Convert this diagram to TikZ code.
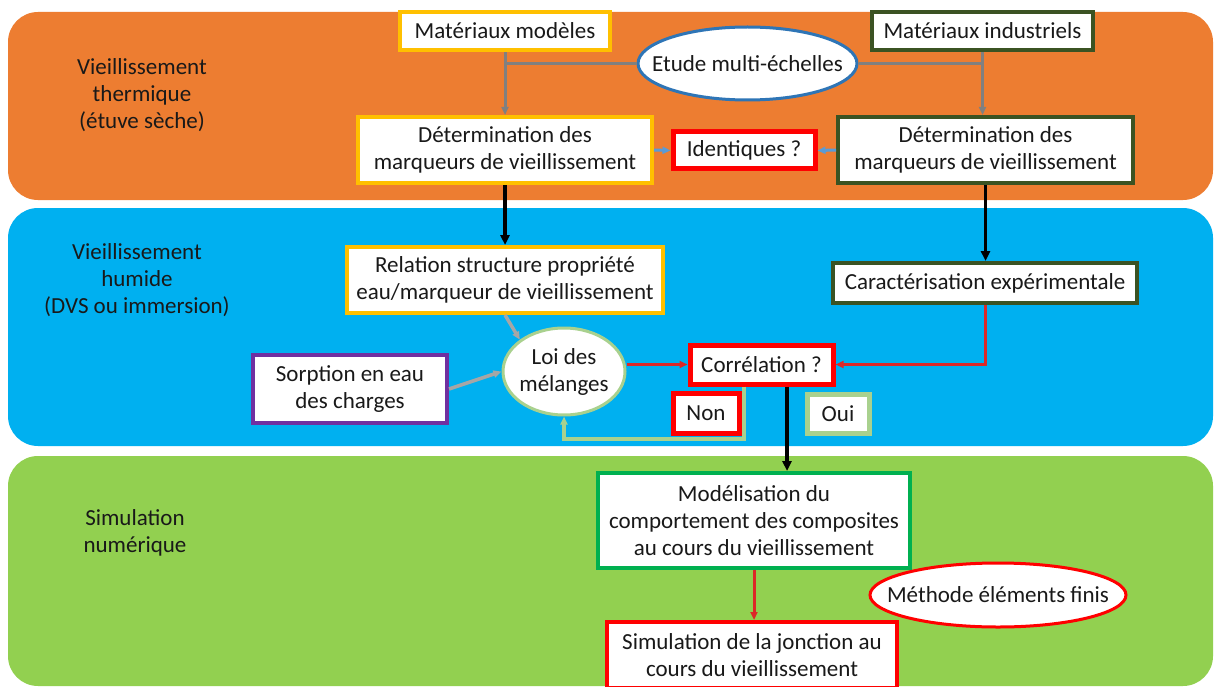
\documentclass[tikz,border=0pt]{standalone}
\usepackage{fontspec}
\setmainfont{Carlito}
\usetikzlibrary{arrows.meta,shapes.geometric}
\definecolor{bandorange}{HTML}{ED7D31}
\definecolor{bandblue}{HTML}{00B0F0}
\definecolor{bandgreen}{HTML}{92D050}
\definecolor{byellow}{HTML}{FFC000}
\definecolor{bdkgreen}{HTML}{3B5323}
\definecolor{bred}{HTML}{FF0000}
\definecolor{bblue}{HTML}{2E75B6}
\definecolor{bpurple}{HTML}{7030A0}
\definecolor{bltgreen}{HTML}{A9D18E}
\definecolor{bgreen}{HTML}{00B050}
\definecolor{agray}{HTML}{808080}
\definecolor{altgray}{HTML}{A6A6A6}
\definecolor{ablue}{HTML}{5B9BD5}
\definecolor{ared}{HTML}{DC2828}
\begin{document}
\begin{tikzpicture}[x=1pt,y=-1pt,
  every node/.style={font=\fontsize{23}{27}\selectfont, text=black!90},
  boxnode/.style={draw, fill=white, inner sep=0pt, align=center},
  ellnode/.style={draw, fill=white, ellipse, inner sep=0pt},
  tip/.style={-{Triangle[length=10pt,width=9pt]}},
  smalltip/.style={-{Triangle[length=8pt,width=7pt]}}
]
\useasboundingbox (0,0) rectangle (1214,687);
\fill[white] (0,0) rectangle (1214,687);
% bands
\fill[bandorange, rounded corners=30pt] (8,12) rectangle (1213,200);
\fill[bandblue, rounded corners=30pt] (8,208) rectangle (1213,446);
\fill[bandgreen, rounded corners=30pt] (8,456) rectangle (1213,686);
% band labels
\node[align=center] (lab1) at (142,95) {Vieillissement\\thermique\\(étuve sèche)};
\node[align=center] (lab2) at (137,280) {Vieillissement\\humide\\(DVS ou immersion)};
\node[align=center] (lab3) at (135,533) {Simulation\\numérique};
% nodes
\node[boxnode, draw=byellow, line width=4pt, minimum width=210pt, minimum height=38pt] (mm) at (505,31) {Matériaux modèles};
\node[boxnode, draw=bdkgreen, line width=4pt, minimum width=221pt, minimum height=38pt] (mi) at (982.5,31) {Matériaux industriels};
\node[ellnode, draw=bblue, line width=3pt, minimum width=219pt, minimum height=73pt,
  label={center:Etude multi-échelles}] (ems) at (747.5,63.5) {};
\node[boxnode, draw=byellow, line width=4pt, minimum width=294pt, minimum height=66pt] (dl) at (505,150) {Détermination des\\marqueurs de vieillissement};
\node[boxnode, draw=bred, line width=5pt, minimum width=142pt, minimum height=37pt] (id) at (744,150.5) {Identiques ?};
\node[boxnode, draw=bdkgreen, line width=4pt, minimum width=295pt, minimum height=66pt] (dr) at (985.5,150) {Détermination des\\marqueurs de vieillissement};
\node[boxnode, draw=byellow, line width=4pt, minimum width=316pt, minimum height=66pt] (rel) at (505,280) {Relation structure propriété\\eau/marqueur de vieillissement};
\node[boxnode, draw=bdkgreen, line width=4pt, minimum width=304pt, minimum height=40pt] (car) at (985,283) {Caractérisation expérimentale};
\node[ellnode, draw=bltgreen, line width=3pt, minimum width=122pt, minimum height=87pt,
  label={[align=center]center:Loi des\\mélanges}] (loi) at (564,371.5) {};
\node[boxnode, draw=bpurple, line width=4pt, minimum width=194pt, minimum height=68pt] (sorp) at (350,389) {Sorption en eau\\des charges};
\node[boxnode, draw=bred, line width=5pt, minimum width=143pt, minimum height=39pt] (cor) at (761.5,364.5) {Corrélation ?};
\node[boxnode, draw=bred, line width=5pt, minimum width=66pt, minimum height=40pt] (non) at (706,413) {Non};
\node[boxnode, draw=bltgreen, line width=5pt, minimum width=62pt, minimum height=39pt] (oui) at (838,413.5) {Oui};
\node[boxnode, draw=bgreen, line width=4pt, minimum width=312pt, minimum height=95pt] (mod) at (754,520.5) {Modélisation du\\comportement des composites\\au cours du vieillissement};
\node[ellnode, draw=bred, line width=3pt, minimum width=256pt, minimum height=64pt,
  label={center:Méthode éléments finis}] (mef) at (998,595) {};
\node[boxnode, draw=bred, line width=4pt, minimum width=290pt, minimum height=66pt] (sim) at (752,655) {Simulation de la jonction au\\cours du vieillissement};
% helper coordinates
\coordinate (loopy) at (0,439);
\coordinate (cb) at ([xshift=25.5pt]cor.south);
\coordinate (ca) at ([xshift=-17.5pt]cor.south);
% connectors
\draw[agray, line width=3pt, smalltip] (mm.south) -- (mm.south |- dl.north);
\draw[agray, line width=3pt] (ems.west) -- (ems.west -| mm.south);
\draw[agray, line width=3pt, smalltip] (mi.south) -- (mi.south |- dr.north);
\draw[agray, line width=3pt] (ems.east) -- (ems.east -| mi.south);
\draw[ablue, line width=3pt, smalltip] (dl.east) -- (id.west);
\draw[ablue, line width=3pt, smalltip] (dr.west) -- (id.east);
\draw[black, line width=3.5pt, tip] (dl.south) -- (rel.north);
\draw[black, line width=3.5pt, tip] (dr.south) -- (dr.south |- car.north);
\draw[altgray, line width=3.5pt, smalltip] (rel.south) -- (loi.north west);
\draw[altgray, line width=3.5pt, smalltip] (sorp.east) -- (loi.west);
\draw[ared, line width=3pt, smalltip] (cor.west -| loi.east) -- (cor.west);
\draw[ared, line width=3pt, smalltip] (car.south) |- (cor.east);
\draw[bltgreen, line width=3.5pt, smalltip] (ca) |- (loi.south |- loopy) -- (loi.south);
\draw[black, line width=3.5pt, tip] (cb) -- (cb |- mod.north);
\draw[ared, line width=3pt, smalltip] (mod.south) -- (mod.south |- sim.north);
\end{tikzpicture}
\end{document}
